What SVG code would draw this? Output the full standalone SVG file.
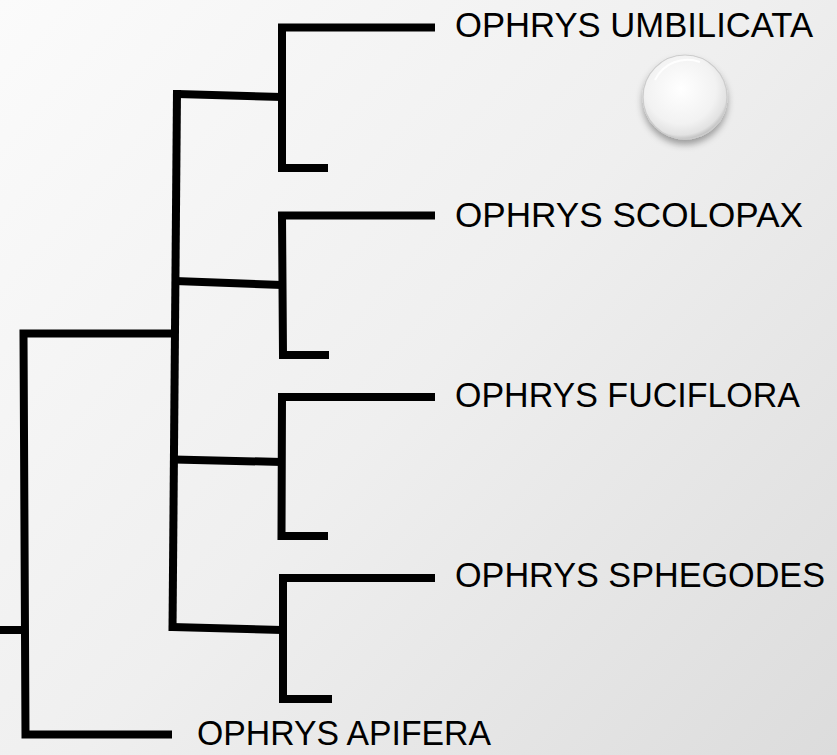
<svg xmlns="http://www.w3.org/2000/svg" width="837" height="755" viewBox="0 0 837 755">
  <defs>
    <linearGradient id="bg" x1="0" y1="0" x2="837" y2="755" gradientUnits="userSpaceOnUse">
      <stop offset="0" stop-color="#fbfbfb"/>
      <stop offset="0.5" stop-color="#efefef"/>
      <stop offset="1" stop-color="#dcdcdc"/>
    </linearGradient>
    <radialGradient id="ball" cx="0.45" cy="0.4" r="0.6">
      <stop offset="0" stop-color="#ffffff"/>
      <stop offset="0.7" stop-color="#f2f2f2"/>
      <stop offset="0.92" stop-color="#e2e2e2"/>
      <stop offset="1" stop-color="#c4c4c4"/>
    </radialGradient>
    <filter id="shadow" x="-30%" y="-30%" width="160%" height="170%">
      <feDropShadow dx="0" dy="5" stdDeviation="3.5" flood-color="#000" flood-opacity="0.35"/>
    </filter>
    <style>
      .br { fill: none; stroke: #000; stroke-width: 8; stroke-linecap: butt; stroke-linejoin: miter; }
      .lbl { font-family: "Liberation Sans", Arial, sans-serif; font-size: 35px; fill: #000; }
    </style>
  </defs>
  <rect x="0" y="0" width="837" height="755" fill="url(#bg)"/>

  <g id="decoration">
    <circle cx="685" cy="97" r="42" fill="url(#ball)" stroke="#cccccc" stroke-width="1.2" filter="url(#shadow)"/>
    <path d="M655,80 A36,36 0 0 1 700,62" fill="none" stroke="#ffffff" stroke-width="2" opacity="0.9"/>
  </g>

  <g id="connectors">
    <!-- root -->
    <path class="br" d="M0,630 H24"/>
    <path class="br" d="M176,333.5 H23.5 L25.5,734.5 H172"/>
    <!-- main stem -->
    <path class="br" d="M177,90 L172.5,631"/>
    <!-- branches from main stem -->
    <path class="br" d="M177,94 L282,97"/>
    <path class="br" d="M175,281 L282,285"/>
    <path class="br" d="M174,459.5 L282,462"/>
    <path class="br" d="M172,627 L282,630"/>
    <!-- clades -->
    <path class="br" d="M435,27.5 H282 V168 H328"/>
    <path class="br" d="M435,215.5 H282 L283,355 H329"/>
    <path class="br" d="M435,397 H282 L281.5,536 H328"/>
    <path class="br" d="M435,578 H283 V699 H332"/>
  </g>

  <g id="umbilicata"><text class="lbl" x="455" y="37" textLength="358" lengthAdjust="spacingAndGlyphs">OPHRYS UMBILICATA</text></g>
  <g id="scolopax"><text class="lbl" x="455" y="227" textLength="348" lengthAdjust="spacingAndGlyphs">OPHRYS SCOLOPAX</text></g>
  <g id="fuciflora"><text class="lbl" x="455" y="407" textLength="345" lengthAdjust="spacingAndGlyphs">OPHRYS FUCIFLORA</text></g>
  <g id="sphegodes"><text class="lbl" x="455" y="587" textLength="370" lengthAdjust="spacingAndGlyphs">OPHRYS SPHEGODES</text></g>
  <g id="apifera"><text class="lbl" x="197" y="745" textLength="294" lengthAdjust="spacingAndGlyphs">OPHRYS APIFERA</text></g>
</svg>
